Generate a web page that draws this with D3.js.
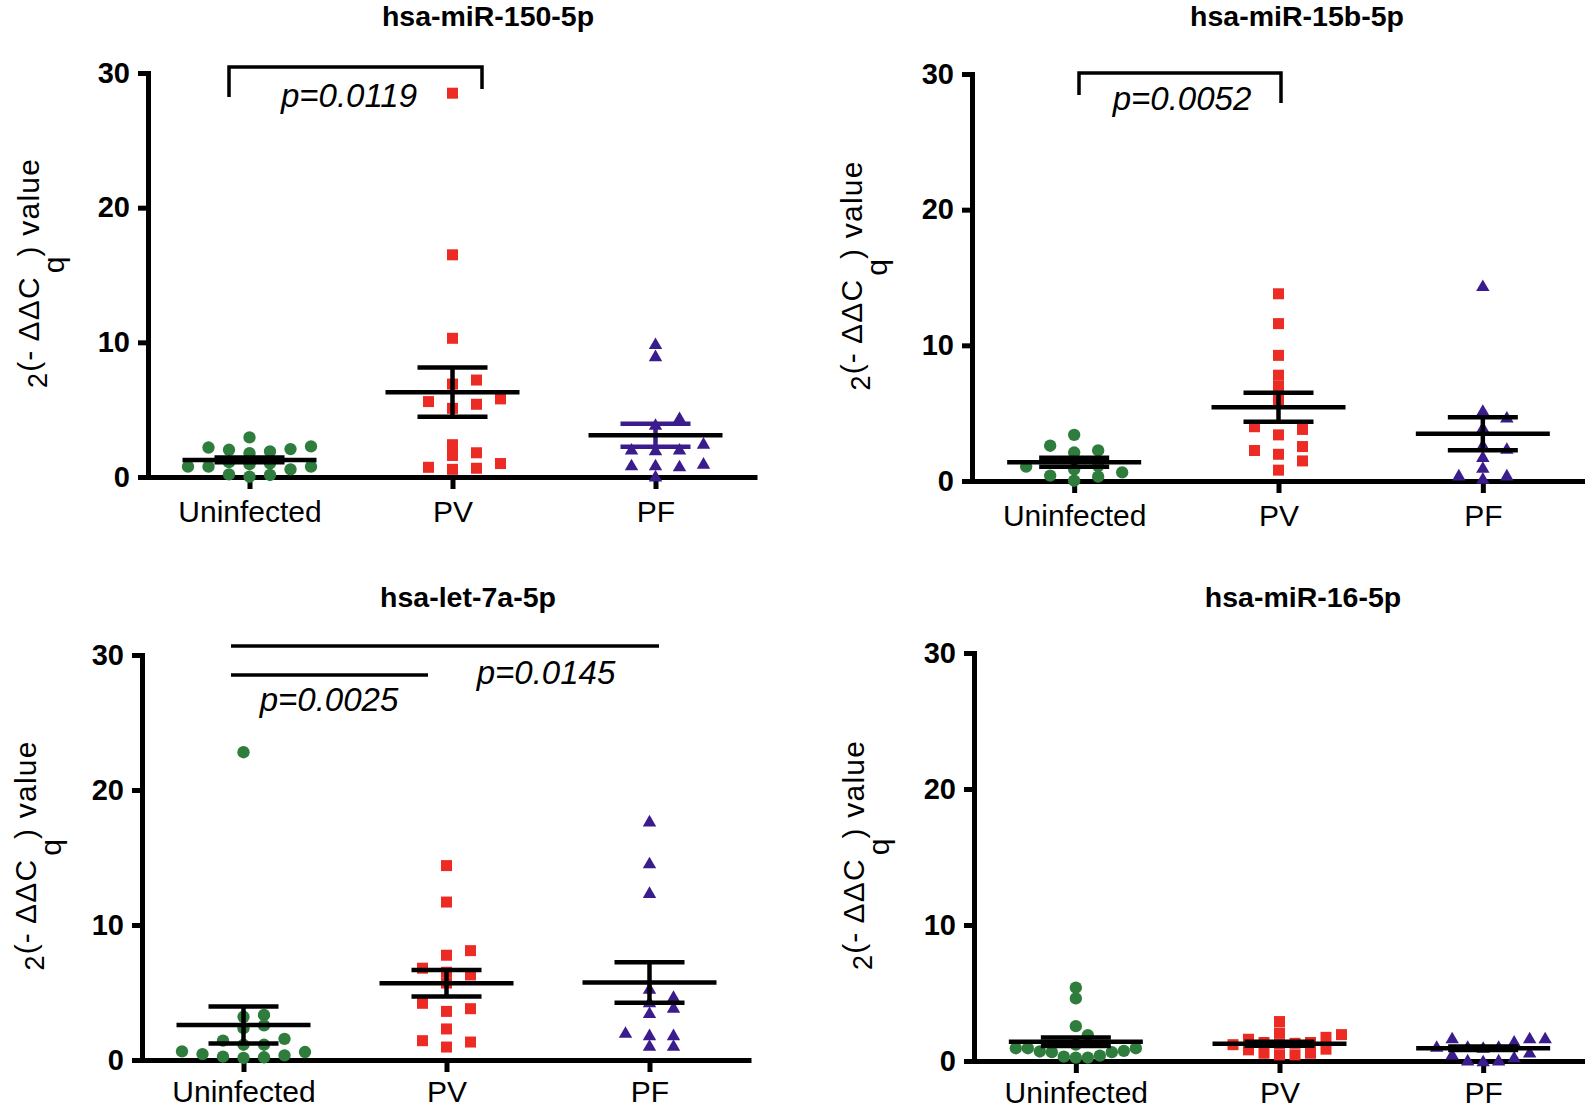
<!DOCTYPE html>
<html><head><meta charset="utf-8">
<script src="https://cdn.jsdelivr.net/npm/d3@7"></script>
<style>body{margin:0;background:#fff}svg{display:block}</style>
</head><body>
<svg id="chart" width="1585" height="1108"></svg>
<script>
// ---------------- DATA ----------------
const categories = ["Uninfected", "PV", "PF"];
const yTickValues = [0, 10, 20, 30];
const panelTitles = ["hsa-miR-150-5p", "hsa-miR-15b-5p", "hsa-let-7a-5p", "hsa-miR-16-5p"];

const miR150_uninfected = [2.94, 2.07, 2.19, 1.90, 2.02, 2.27, 1.77, 0.95, 1.10, 0.77, 0.77, 0.77, 0.57, 1.02, 0.15, 0.20, 0.02];
const miR150_pv = [28.5, 16.5, 10.3, 7.2, 6.9, 5.6, 5.4, 5.8, 5.1, 2.4, 1.6, 1.8, 1.0, 0.57, 0.65, 0.72];
const miR150_pf = [9.9, 9.0, 4.4, 3.9, 2.5, 2.07, 2.07, 2.02, 1.02, 0.9, 0.82, 0.9, 0.07];
const miR150_mean = [1.27, 6.3, 3.1];
const miR150_sem = [0.17, 1.83, 0.86];

const miR15b_uninfected = [3.4, 2.6, 2.1, 2.25, 0.86, 1.1, 0.64, 1.06, 0.02, 0.32, 0.4];
const miR15b_pv = [13.8, 11.6, 9.26, 7.8, 7.0, 5.95, 4.0, 3.8, 3.4, 2.54, 2.25, 1.97, 1.48, 0.8];
const miR15b_pf = [14.4, 5.2, 4.7, 3.95, 2.67, 2.4, 1.8, 1.0, 0.2, 0.44, 0.44];
const miR15b_mean = [1.38, 5.43, 3.48];
const miR15b_sem = [0.33, 1.07, 1.22];

const let7a_uninfected = [22.8, 3.2, 3.34, 2.36, 2.56, 1.43, 1.57, 1.13, 1.13, 0.64, 0.44, 0.59, 0.25, 0.15, 0.2, 0.34];
const let7a_pv = [14.4, 11.7, 8.1, 7.76, 6.3, 6.8, 6.5, 5.7, 4.2, 3.8, 3.6, 2.3, 1.43, 1.33, 0.96];
const let7a_pf = [17.7, 14.6, 12.4, 5.3, 4.7, 4.3, 3.9, 3.5, 2.04, 1.87, 1.87, 1.08, 1.08];
const let7a_mean = [2.6, 5.68, 5.75];
const let7a_sem = [1.37, 0.98, 1.5];

const miR16_uninfected = [5.4, 4.6, 2.56, 1.9, 1.2, 0.94, 0.94, 0.94, 0.65, 0.65, 0.7, 0.74, 0.4, 0.25, 0.32, 0.25];
const miR16_pv = [2.9, 1.74, 2.06, 1.94, 1.6, 1.36, 1.2, 1.3, 1.36, 1.27, 0.57, 0.45, 0.57, 0.82, 0.45, 0.87];
const miR16_pf = [1.7, 1.7, 1.7, 1.45, 1.07, 1.07, 1.07, 0.65, 1.0, 0.5, 0.07, 0.07, 0.0, 0.3];
const miR16_mean = [1.41, 1.27, 0.94];
const miR16_sem = [0.31, 0.15, 0.13];

const pLabels = ["p=0.0119", "p=0.0052", "p=0.0025", "p=0.0145"];

// ---------------- STYLE / LAYOUT ----------------
const colors = ["#2e7d3d", "#ec2b25", "#3b1c8c"];
const FONT = "'Liberation Sans', Arial, Helvetica, sans-serif";

const panels = [
  { title: panelTitles[0], groups: [miR150_uninfected, miR150_pv, miR150_pf], mean: miR150_mean, sem: miR150_sem,
    x0: 148, yTop: 73, yBot: 477, w: 609, titleX: 488, titleY: 26, labelX: 47, xPad: 12, pfBarColor: colors[2] },
  { title: panelTitles[1], groups: [miR15b_uninfected, miR15b_pv, miR15b_pf], mean: miR15b_mean, sem: miR15b_sem,
    x0: 972, yTop: 74, yBot: 481, w: 613, titleX: 1297, titleY: 26, labelX: 870, xPad: 12, pfBarColor: "#000" },
  { title: panelTitles[2], groups: [let7a_uninfected, let7a_pv, let7a_pf], mean: let7a_mean, sem: let7a_sem,
    x0: 142, yTop: 655, yBot: 1060, w: 609, titleX: 468, titleY: 607, labelX: 44, xPad: 9, pfBarColor: "#000" },
  { title: panelTitles[3], groups: [miR16_uninfected, miR16_pv, miR16_pf], mean: miR16_mean, sem: miR16_sem,
    x0: 974, yTop: 653, yBot: 1061, w: 611, titleX: 1303, titleY: 607, labelX: 872, xPad: 9, pfBarColor: "#000" }
];

const svg = d3.select("#chart").style("font-family", FONT);

const symbolTypes = [d3.symbolCircle, d3.symbolSquare, d3.symbolTriangle];
const symbolSizes = [120, 121, 78];

// column beeswarm: values keep their exact y, x is the nearest free column
function swarm(values, cx, y, sp0, maxHalf, minDy) {
  function place(sp) {
    const pts = values.map((v, i) => ({ v, i, py: y(v) }));
    const order = pts.slice().sort((a, b) => b.py - a.py || a.i - b.i);
    const placed = [];
    for (const p of order) {
      for (let j = 0; j < 60; j++) {
        const k = j === 0 ? 0 : (j % 2 ? (j + 1) / 2 : -j / 2);
        const dx = k * sp;
        const hit = placed.some(q => Math.abs(q.dx - dx) < sp - 0.01 && Math.abs(q.py - p.py) < minDy);
        if (!hit) { p.dx = dx; break; }
      }
      placed.push(p);
    }
    pts.forEach(p => p.px = cx + p.dx);
    return pts;
  }
  for (let sp = sp0; sp >= 6; sp -= 0.5) {
    const res = place(sp);
    if (d3.max(res, p => Math.abs(p.dx)) <= maxHalf + 0.01) return res;
  }
  return place(6);
}

panels.forEach((P, pi) => {
  const g = svg.append("g");
  const y = d3.scaleLinear().domain([0, 30]).range([P.yBot, P.yTop]);
  const x = d3.scalePoint().domain(categories).range([P.x0, P.x0 + P.w]).padding(0.5);

  // title
  g.append("text").attr("x", P.titleX).attr("y", P.titleY).attr("text-anchor", "middle")
    .attr("font-size", 28.5).attr("font-weight", "bold").text(P.title);

  // y axis
  const ya = g.append("g").attr("transform", `translate(${P.x0},0)`)
    .call(d3.axisLeft(y).tickValues(yTickValues).tickSize(10).tickSizeOuter(0).tickPadding(8).tickFormat(d3.format("d")));
  ya.select(".domain").attr("stroke-width", 5).attr("stroke-linecap", "square");
  ya.selectAll(".tick line").attr("stroke-width", 5);
  ya.selectAll(".tick text").attr("font-size", 29).attr("font-weight", "bold").attr("font-family", FONT).attr("fill", "#000");

  // x axis
  const xa = g.append("g").attr("transform", `translate(0,${P.yBot})`)
    .call(d3.axisBottom(x).tickSize(12).tickSizeOuter(0).tickPadding(P.xPad));
  xa.select(".domain").attr("stroke-width", 5);
  xa.selectAll(".tick line").attr("stroke-width", 5);
  xa.selectAll(".tick text").attr("font-size", 30).attr("font-family", FONT).attr("fill", "#000");

  // y label
  const cy = (P.yTop + P.yBot) / 2 - 2;
  const lab = g.append("text").attr("transform", `translate(${P.labelX},${cy}) rotate(-90)`)
    .attr("text-anchor", "middle").attr("font-size", 30).attr("letter-spacing", 1.2).attr("fill", "#000");
  lab.append("tspan").attr("font-size", 27).text("2");
  lab.append("tspan").attr("dy", -8).text("(- ΔΔC");
  lab.append("tspan").attr("dy", 25).attr("dx", 3).text("q");
  lab.append("tspan").attr("dy", -25).attr("dx", -1).text(") value");

  // points
  P.groups.forEach((vals, gi) => {
    const cx = x(categories[gi]);
    const pts = swarm(vals, cx, y, 24, 62, 10.5);
    const sym = d3.symbol().type(symbolTypes[gi]).size(symbolSizes[gi]);
    g.append("g").selectAll("path").data(pts).join("path")
      .attr("d", sym)
      .attr("transform", d => `translate(${d.px},${d.py + (gi === 2 ? 1.5 : 0)})`)
      .attr("fill", colors[gi]);
  });

  // mean +- SEM
  P.groups.forEach((vals, gi) => {
    const cx = x(categories[gi]);
    const m = P.mean[gi], s = P.sem[gi];
    const barColor = gi === 2 ? P.pfBarColor : "#000";
    const eg = g.append("g").attr("stroke-width", 4.5).attr("fill", "none");
    eg.append("line").attr("x1", cx).attr("x2", cx).attr("y1", y(m - s)).attr("y2", y(m + s)).attr("stroke", barColor);
    [m - s, m + s].forEach(v => eg.append("line").attr("x1", cx - 35).attr("x2", cx + 35).attr("y1", y(v)).attr("y2", y(v)).attr("stroke", barColor));
    eg.append("line").attr("x1", cx - 67).attr("x2", cx + 67).attr("y1", y(m)).attr("y2", y(m)).attr("stroke", "#000");
  });
});

// significance annotations
const ann = svg.append("g").attr("stroke", "#000").attr("stroke-width", 3.5).attr("fill", "none");
ann.append("path").attr("d", "M229,97 V67 H482 V89");
ann.append("path").attr("d", "M1079,95 V73 H1281 V103");
ann.append("line").attr("x1", 231).attr("x2", 659).attr("y1", 646).attr("y2", 646);
ann.append("line").attr("x1", 231).attr("x2", 428).attr("y1", 675).attr("y2", 675);

const annText = [
  { t: pLabels[0], x: 349, y: 107 },
  { t: pLabels[1], x: 1182, y: 110 },
  { t: pLabels[2], x: 329, y: 711 },
  { t: pLabels[3], x: 546, y: 684 }
];
svg.append("g").selectAll("text").data(annText).join("text")
  .attr("x", d => d.x).attr("y", d => d.y).attr("text-anchor", "middle")
  .attr("font-size", 33).attr("font-style", "italic").attr("fill", "#000").text(d => d.t);
</script>
</body></html>
